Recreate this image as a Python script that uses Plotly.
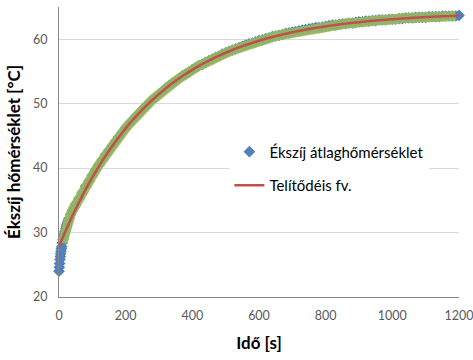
import plotly.graph_objects as go

# Measured mean belt temperature (time in s, temperature in °C)
meas_time = [0, 1, 2, 3, 4, 5, 6, 7, 8, 10, 12, 14, 16, 18, 20, 22, 24, 26, 28, 30, 35, 40, 45, 50,
             60, 70, 80, 90, 100, 110, 120, 130, 140, 150, 160, 170, 180, 190, 200,
             210, 220, 230, 240, 250, 260, 270, 280, 290, 300, 310, 320, 330, 340, 350, 360, 370, 380, 390, 400,
             410, 420, 430, 440, 450, 460, 470, 480, 490, 500, 510, 520, 530, 540, 550, 560, 570, 580, 590, 600,
             610, 620, 630, 640, 650, 660, 670, 680, 690, 700, 710, 720, 730, 740, 750, 760, 770, 780, 790, 800,
             810, 820, 830, 840, 850, 860, 870, 880, 890, 900, 910, 920, 930, 940, 950, 960, 970, 980, 990, 1000,
             1010, 1020, 1030, 1040, 1050, 1060, 1070, 1080, 1090, 1100, 1110, 1120, 1130, 1140, 1150, 1160, 1170,
             1180, 1190, 1200]
meas_temp = [24.0, 24.6, 25.2, 25.8, 26.3, 26.7, 27.1, 27.5, 27.8, 28.4, 28.9, 29.4, 29.8, 30.2, 30.6, 31.0,
             31.3, 31.6, 31.9, 32.2, 32.8, 33.4, 33.9, 34.4,
             35.3, 36.2, 37.2, 38.0, 38.9, 39.7, 40.5, 41.3, 42.1, 42.8, 43.5, 44.2, 44.9, 45.5, 46.2,
             46.8, 47.4, 48.0, 48.5, 49.1, 49.6, 50.1, 50.6, 51.0, 51.5, 51.9, 52.4, 52.8, 53.2, 53.5, 53.9, 54.3, 54.6, 54.9, 55.3,
             55.6, 55.9, 56.1, 56.4, 56.7, 56.9, 57.2, 57.4, 57.7, 57.9, 58.1, 58.3, 58.5, 58.7, 58.9, 59.1, 59.3, 59.4, 59.6, 59.8,
             59.9, 60.1, 60.2, 60.4, 60.5, 60.6, 60.7, 60.9, 61.0, 61.1, 61.2, 61.3, 61.4, 61.5, 61.6, 61.7, 61.8, 61.8, 61.9, 62.0,
             62.1, 62.2, 62.2, 62.3, 62.4, 62.4, 62.5, 62.5, 62.6, 62.7, 62.7, 62.8, 62.8, 62.9, 62.9, 63.0, 63.0, 63.0, 63.1, 63.1,
             63.1, 63.2, 63.2, 63.3, 63.3, 63.3, 63.4, 63.4, 63.4, 63.4, 63.5, 63.5, 63.5, 63.5, 63.6, 63.6, 63.6,
             63.6, 63.6, 63.7]

# Saturation fit curve
fit_time = [0, 20, 40, 60, 80, 100, 120, 140, 160, 180, 200, 220, 240, 260, 280, 300, 320, 340, 360, 380, 400,
            420, 440, 460, 480, 500, 520, 540, 560, 580, 600, 620, 640, 660, 680, 700, 720, 740, 760, 780, 800,
            820, 840, 860, 880, 900, 920, 940, 960, 980, 1000, 1020, 1040, 1060, 1080, 1100, 1120, 1140, 1160,
            1180, 1200]
fit_temp = [27.80, 30.27, 32.57, 34.71, 36.71, 38.57, 40.31, 41.93, 43.44, 44.84, 46.16, 47.38, 48.52, 49.58,
            50.57, 51.49, 52.36, 53.16, 53.91, 54.60, 55.25, 55.86, 56.43, 56.95, 57.44, 57.90, 58.33, 58.73,
            59.10, 59.44, 59.77, 60.07, 60.35, 60.61, 60.85, 61.08, 61.29, 61.49, 61.67, 61.84, 62.00, 62.15,
            62.29, 62.42, 62.54, 62.65, 62.76, 62.86, 62.95, 63.03, 63.11, 63.18, 63.25, 63.32, 63.38, 63.43,
            63.49, 63.53, 63.58, 63.62, 63.66]

x_ticks = [0, 200, 400, 600, 800, 1000, 1200]
y_ticks = [20, 30, 40, 50, 60]

BLUE = "#4F81BD"
GREEN = "#9BBB59"
RED = "#C0504D"
FONT = "Lato"

green_t = [t for t in meas_time if 10 <= t <= 1190]
green_y = [y for t, y in zip(meas_time, meas_temp) if 10 <= t <= 1190]

fig = go.Figure()
fig.add_trace(go.Scatter(
    x=meas_time, y=meas_temp, mode="markers", name="Ékszíj átlaghőmérséklet",
    marker=dict(symbol="diamond", size=9, color=BLUE),
    cliponaxis=False, legendgroup="a",
))
fig.add_trace(go.Scatter(
    x=green_t, y=green_y, mode="lines", showlegend=False,
    line=dict(color=GREEN, width=10), opacity=0.88, cliponaxis=False,
))
fig.add_trace(go.Scatter(
    x=fit_time, y=fit_temp, mode="lines", name="Telítődéis fv.",
    line=dict(color=RED, width=2.5, shape="spline"), cliponaxis=False, legendgroup="b",
))

fig.update_layout(
    width=473, height=360,
    margin=dict(l=59, r=14, t=7, b=63),
    paper_bgcolor="white", plot_bgcolor="white",
    font=dict(family=FONT, color="#595959"),
    showlegend=True,
    legend=dict(
        x=0.426, y=0.557, xanchor="left", yanchor="top",
        bgcolor="white", font=dict(family=FONT, size=15, color="#000000"),
        tracegroupgap=11, traceorder="grouped",
    ),
    xaxis=dict(
        range=[0, 1200], tickvals=x_ticks, showgrid=False, zeroline=False, automargin=False,
        showline=True, linecolor="#868686", linewidth=1, ticklabeloverflow="allow",
        tickfont=dict(size=12.5, color="#595959"), ticks="", ticklabelstandoff=7,
        title=dict(text="<b>Idő [s]</b>", font=dict(size=17, color="#000000"), standoff=15),
    ),
    yaxis=dict(
        range=[20, 65], tickvals=y_ticks, showgrid=True, gridcolor="#D9D9D9", gridwidth=1,
        zeroline=False, showline=True, linecolor="#868686", linewidth=1, automargin=False,
        tickfont=dict(size=12.5, color="#595959"), ticks="", ticklabelstandoff=8,
        title=dict(text="<b>Ékszíj hőmérséklet [°C]</b>", font=dict(size=17, color="#000000"), standoff=8),
    ),
)

fig.write_html("out.html", config={"displayModeBar": False},
               post_script="document.body.style.margin='0';")
